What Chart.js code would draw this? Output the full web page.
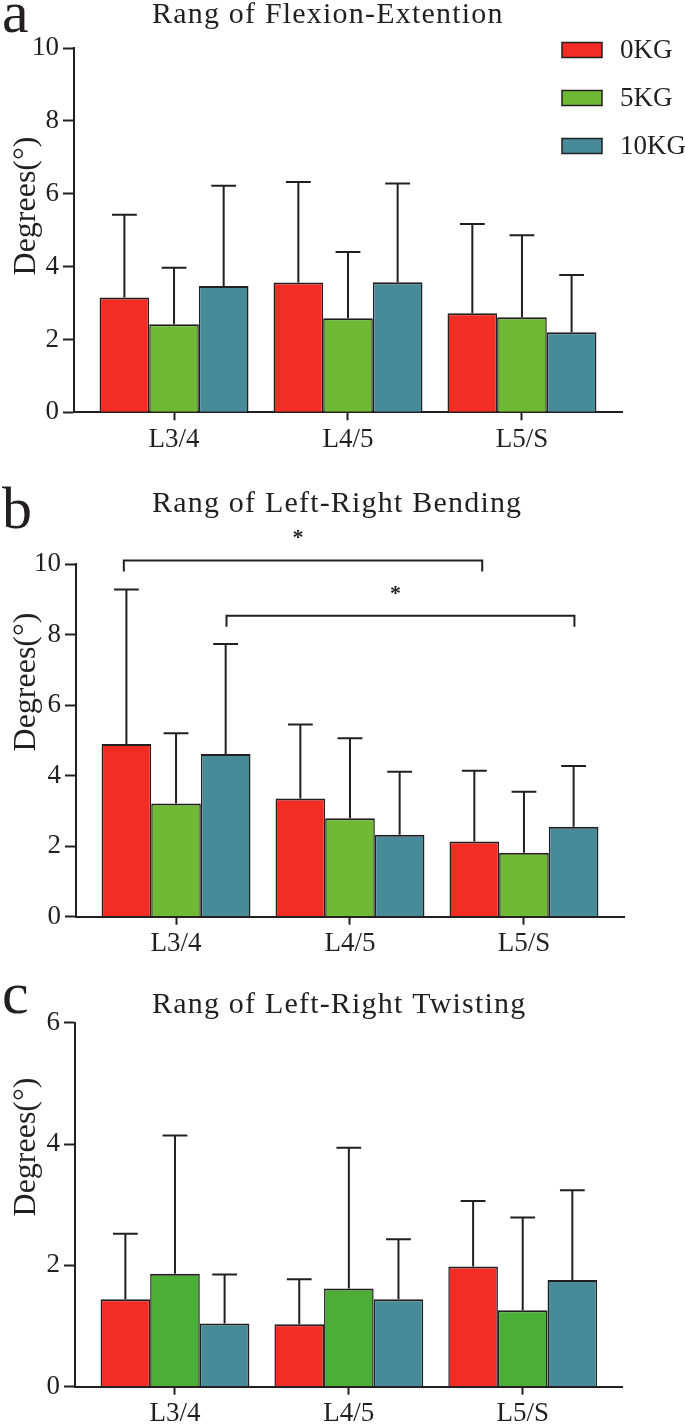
<!DOCTYPE html>
<html>
<head>
<meta charset="utf-8">
<script src="https://cdn.jsdelivr.net/npm/chart.js@4.4.1/dist/chart.umd.min.js"></script>
<style>
  body { margin: 0; background: #fff; }
  .panel { position: absolute; left: 0; width: 685px; }
</style>
</head>
<body>
<div class="panel" style="top:0;height:470px"><canvas id="flexion"></canvas></div>
<div class="panel" style="top:470px;height:490px"><canvas id="bending"></canvas></div>
<div class="panel" style="top:960px;height:467px"><canvas id="twisting"></canvas></div>
<script>
const segments = ['L3/4', 'L4/5', 'L5/S']
const loads = ['0KG', '5KG', '10KG']
const ticksTen = [0, 2, 4, 6, 8, 10]
const ticksSix = [0, 2, 4, 6]

// flexion-extention, mean and sd per segment
const flex0 = [3.15, 3.56, 2.72]
const flex5 = [2.42, 2.58, 2.61]
const flex10 = [3.47, 3.57, 2.20]
const flexSd0 = [2.27, 2.76, 2.45]
const flexSd5 = [1.55, 1.82, 2.25]
const flexSd10 = [2.75, 2.71, 1.57]

// left-right bending
const bend0 = [4.90, 3.35, 2.13]
const bend5 = [3.21, 2.79, 1.81]
const bend10 = [4.61, 2.32, 2.55]
const bendSd0 = [4.38, 2.10, 2.01]
const bendSd5 = [1.99, 2.27, 1.73]
const bendSd10 = [3.12, 1.79, 1.72]
// significance brackets (x in segment units, y in degrees)
const bendBracketFrom = [-0.30, 0.29]
const bendBracketTo = [1.76, 2.29]
const bendBracketY = [10.1, 8.53]

// left-right twisting
const twist0 = [1.44, 1.03, 1.98]
const twist5 = [1.86, 1.62, 1.26]
const twist10 = [1.04, 1.44, 1.76]
const twistSd0 = [1.08, 0.74, 1.08]
const twistSd5 = [2.28, 2.32, 1.53]
const twistSd10 = [0.81, 0.99, 1.48]

const ink = '#231f20'
const red = '#f32d23'
const green = '#70b934'
const greenDark = '#4bae37'
const teal = '#468b97'
const serif = '"Liberation Serif", "Times New Roman", serif'

Chart.defaults.font.family = serif
Chart.defaults.color = ink

const errorBars = {
  id: 'errorBars',
  afterDatasetsDraw(chart) {
    const ctx = chart.ctx
    const y = chart.scales.y
    ctx.save()
    ctx.strokeStyle = ink
    ctx.lineWidth = 2
    chart.data.datasets.forEach((ds, i) => {
      chart.getDatasetMeta(i).data.forEach((bar, j) => {
        const top = y.getPixelForValue(ds.data[j].y + ds.sd[j])
        const half = bar.width / 4
        ctx.beginPath()
        ctx.moveTo(bar.x, bar.y)
        ctx.lineTo(bar.x, top)
        ctx.moveTo(bar.x - half, top)
        ctx.lineTo(bar.x + half, top)
        ctx.stroke()
      })
    })
    ctx.restore()
  }
}

const panelText = {
  id: 'panelText',
  afterDraw(chart, args, o) {
    const ctx = chart.ctx
    const area = chart.chartArea
    ctx.save()
    ctx.fillStyle = ink
    ctx.textBaseline = 'alphabetic'
    ctx.textAlign = 'left'
    ctx.font = '60px ' + serif
    ctx.fillText(o.letter, 2, o.letterY)

    ctx.font = '30px ' + serif
    ctx.letterSpacing = '1.2px'
    ctx.fillText(o.title, 152, o.titleY)
    ctx.letterSpacing = '0px'

    // y axis title
    ctx.save()
    ctx.translate(27, o.yTitleY)
    ctx.rotate(-Math.PI / 2)
    ctx.textAlign = 'center'
    ctx.textBaseline = 'middle'
    ctx.font = '32px ' + serif
    ctx.fillText('Degrees(°)', 0, 0)
    ctx.restore()

    if (o.legend) {
      ctx.font = '27px ' + serif
      ctx.textBaseline = 'middle'
      ctx.lineWidth = 1.5
      ctx.strokeStyle = ink
      chart.data.datasets.forEach((ds, i) => {
        const cy = area.top + 2 + i * 48
        ctx.fillStyle = ds.backgroundColor
        ctx.fillRect(562, cy - 7.5, 40, 15)
        ctx.strokeRect(562, cy - 7.5, 40, 15)
        ctx.fillStyle = ink
        ctx.fillText(ds.label, 620, cy + 1)
      })
    }

    if (o.brackets) {
      const x = chart.scales.x
      const y = chart.scales.y
      ctx.strokeStyle = ink
      ctx.lineWidth = 2
      ctx.font = 'bold 22px ' + serif
      ctx.textAlign = 'center'
      ctx.textBaseline = 'middle'
      o.brackets.from.forEach((f, i) => {
        const x1 = x.getPixelForValue(f)
        const x2 = x.getPixelForValue(o.brackets.to[i])
        const yy = y.getPixelForValue(o.brackets.y[i])
        ctx.beginPath()
        ctx.moveTo(x1, yy + 11)
        ctx.lineTo(x1, yy)
        ctx.lineTo(x2, yy)
        ctx.lineTo(x2, yy + 11)
        ctx.stroke()
        ctx.fillStyle = ink
        ctx.fillText('*', (x1 + x2) / 2 - 5, yy - 22)
      })
    }
    ctx.restore()
  }
}

function makeChart(id, p) {
  const colors = [red, p.green, teal]
  const font = { size: 27, family: serif }
  return new Chart(document.getElementById(id), {
    type: 'bar',
    data: {
      datasets: p.means.map((m, k) => ({
        label: loads[k],
        data: m.map((v, i) => ({ x: i, y: v })),
        sd: p.sds[k],
        backgroundColor: colors[k],
        borderColor: ink,
        borderWidth: { top: 2, left: 1.5, right: 1.5, bottom: 0 },
        borderSkipped: false,
        categoryPercentage: 0.856,
        barPercentage: 1
      }))
    },
    options: {
      responsive: true,
      maintainAspectRatio: false,
      animation: false,
      layout: { padding: { left: 0, top: p.top, right: p.right, bottom: 0 } },
      plugins: {
        legend: { display: false },
        tooltip: { enabled: false },
        panelText: p.text
      },
      scales: {
        x: {
          type: 'linear',
          min: -0.575,
          max: 2.575,
          offset: false,
          afterBuildTicks: s => { s.ticks = segments.map((_, i) => ({ value: i })) },
          afterFit: s => { s.height = p.xHeight },
          ticks: { callback: (v, i) => segments[i], font, color: ink, padding: 3, maxRotation: 0, autoSkip: false },
          grid: { display: true, drawOnChartArea: false, drawTicks: true, tickLength: 8, tickWidth: 2, tickColor: ink, offset: false },
          border: { display: true, color: ink, width: 2 }
        },
        y: {
          min: 0,
          max: p.yMax,
          afterBuildTicks: s => { s.ticks = p.yTicks.map(v => ({ value: v })) },
          afterFit: s => { s.width = p.yWidth },
          ticks: { font, color: ink, padding: 4 },
          grid: { drawOnChartArea: false, tickLength: 11, tickWidth: 2, tickColor: ink },
          border: { display: true, color: ink, width: 2 }
        }
      }
    },
    plugins: [errorBars, panelText]
  })
}

makeChart('flexion', {
  means: [flex0, flex5, flex10],
  sds: [flexSd0, flexSd5, flexSd10],
  green: green,
  yMax: 10, yTicks: ticksTen,
  top: 48, right: 63, yWidth: 74, xHeight: 57.7,
  text: { letter: 'a', letterY: 32, title: 'Rang of Flexion-Extention', titleY: 23, yTitleY: 206, legend: true }
})

makeChart('bending', {
  means: [bend0, bend5, bend10],
  sds: [bendSd0, bendSd5, bendSd10],
  green: green,
  yMax: 10, yTicks: ticksTen,
  top: 94, right: 61, yWidth: 76, xHeight: 43.3,
  text: {
    letter: 'b', letterY: 58, title: 'Rang of Left-Right Bending', titleY: 42, yTitleY: 212,
    brackets: { from: bendBracketFrom, to: bendBracketTo, y: bendBracketY }
  }
})

makeChart('twisting', {
  means: [twist0, twist5, twist10],
  sds: [twistSd0, twistSd5, twistSd10],
  green: greenDark,
  yMax: 6, yTicks: ticksSix,
  top: 62.7, right: 62.3, yWidth: 75, xHeight: 40.3,
  text: { letter: 'c', letterY: 53, title: 'Rang of Left-Right Twisting', titleY: 53, yTitleY: 187 }
})
</script>
</body>
</html>
